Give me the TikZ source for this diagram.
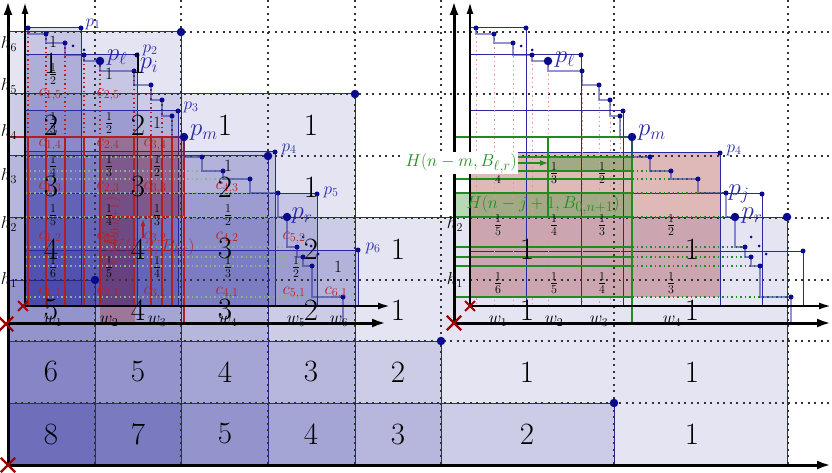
\documentclass[tikz,border=0pt]{standalone}
\usepackage{amsmath}
\usepackage{tikz}
\usetikzlibrary{arrows.meta,shapes.misc}
\definecolor{areaFill}{HTML}{1E1E96}
\definecolor{areaDraw}{HTML}{2828A0}
\definecolor{ptFill}{HTML}{0A0A8C}
\definecolor{ptText}{HTML}{2A2AA8}
\definecolor{redDraw}{HTML}{B41E1E}
\definecolor{redText}{HTML}{B82020}
\definecolor{pinkFill}{HTML}{8C0000}
\definecolor{grnDraw}{HTML}{1E8C1E}
\definecolor{grnFill}{HTML}{288C1E}
\definecolor{grnDot}{HTML}{8CB48C}
\definecolor{crossRed}{HTML}{A00000}
\tikzset{
  area/.style   ={fill=areaFill, fill opacity=0.12, draw=areaDraw, line width=1pt},
  areaL/.style  ={area, fill opacity=0.15},
  outl/.style   ={draw=areaDraw, line width=1pt},
  gridl/.style  ={dash pattern=on 2pt off 4.5pt, line width=1.3pt, black!80},
  axthick/.style={-{Latex[length=14pt,width=9pt]}, line width=3pt},
  axthin/.style ={-{Latex[length=12pt,width=7pt]}, line width=2pt},
  xmark/.style  ={cross out, draw=crossRed, line width=2.4pt, minimum size=12pt, inner sep=0pt},
  xsmall/.style ={xmark, line width=1.8pt, minimum size=8pt},
  stair/.style  ={draw=areaDraw, draw opacity=0.5, line width=1.8pt},
  dot/.style    ={circle, fill=ptFill, inner sep=0pt, minimum size=5pt},
  bigdot/.style ={dot, minimum size=8.5pt},
  tinydot/.style={dot, minimum size=3pt},
  redl/.style   ={draw=redDraw, line width=1.2pt},
  reddot/.style ={draw=redDraw, dash pattern=on 1.5pt off 3pt, line width=1.2pt},
  pinkdot/.style={draw=redDraw!45, dash pattern=on 1.5pt off 3pt, line width=1pt},
  grnl/.style   ={draw=grnDraw, line width=1.2pt},
  grndot/.style ={draw=grnDraw, dash pattern=on 1.5pt off 3pt, line width=1.2pt},
  greydot/.style={draw=grnDot, dash pattern=on 1.5pt off 3pt, line width=1.2pt},
  num/.style    ={font=\fontsize{31}{33}\selectfont, inner sep=0pt},
  frc/.style    ={font=\fontsize{17}{19}\selectfont, inner sep=0pt},
  clab/.style   ={font=\fontsize{18}{20}\selectfont, text=redText, inner sep=0pt},
  axlab/.style  ={font=\fontsize{18}{20}\selectfont, inner sep=0pt},
  plab/.style   ={font=\fontsize{18}{20}\selectfont, text=ptText, inner sep=0pt},
  pbig/.style   ={font=\fontsize{25}{27}\selectfont, text=ptText, inner sep=0pt},
  hlab/.style   ={font=\fontsize{19}{21}\selectfont, text=grnDraw, inner sep=1pt},
  vlab/.style   ={font=\fontsize{18}{20}\selectfont, text=redText, inner sep=0pt},
  garr/.style   ={-{Latex[length=8pt,width=6pt]}, grnDraw, line width=1.2pt},
  rarr/.style   ={-{Latex[length=7pt,width=5pt]}, redDraw, line width=1.2pt},
}

\begin{document}
\begin{tikzpicture}[x=1pt, y=-1pt]
  \useasboundingbox (0,0) rectangle (832,473);

  % origins, corners of the rectangles and the staircase points
  \coordinate (oA)  at (8,465);
  \coordinate (oL2) at (8,323);
  \coordinate (oL)  at (25,306);
  \coordinate (oR2) at (454,323);
  \coordinate (oR)  at (470,306);
  \coordinate (gL)  at (454,0);
  \coordinate (gB)  at (0,217);
  \foreach \x/\y [count=\k] in {181/32,355/94,268/156,787/217,95/280,441/341,614/403,181/403}
    \coordinate (a\k) at (\x,\y);
  \foreach \x/\y [count=\k] in {81/28,137/55,178/111,275/152,317/194,358/250}
    \coordinate (q\k) at (\x,\y);
  \foreach \x/\y [count=\k] in {526/28,581/55,623/111,720/153,762/194,803/251}
    \coordinate (r\k) at (\x,\y);
  \foreach \x/\y [count=\k] in {28/28,46/34,65/43,84/55,100/61,134/71,151/85,162/100,172/116,184/137,202/157,223/171,250/179,278/193,287/217,297/247,303/257,312/266,343/297} {
    \coordinate (s\k) at (\x,\y);
    \coordinate (t\k) at (\x+448,\y);
  }

  % shaded rectangles
  \foreach \k in {1,...,8} \draw[area] (oA) rectangle (a\k);
  \foreach \k in {1,...,6} \draw[areaL] (oL) rectangle (q\k);
  \fill[pinkFill, fill opacity=0.28] (100,137) -- (184,137) -- (184,217) -- (135,217) -- (135,325) -- (100,325) -- cycle;
  \fill[pinkFill, fill opacity=0.28] (470,297) rectangle (r4);
  \fill[grnFill, fill opacity=0.33] (548,157) rectangle (632,171);
  \fill[grnFill, fill opacity=0.33] (454,193) rectangle (632,217);

  % dotted grid
  \foreach \x in {95,181,268,355,441,614,788} \draw[gridl] (\x,0) -- (\x,465);
  \foreach \y in {32,94,156,218,280,341,403} \draw[gridl] (8,\y) -- (832,\y);

  \foreach \k in {1,...,6} \draw[outl] (oR) rectangle (r\k);

  % red and green guides
  \draw[redl] (oL2) rectangle (s10);
  \draw[redl] (100,217) -- (184,217);
  \foreach \k in {1,...,9} {
    \draw[reddot] (s\k) -- (s\k |- s10);
    \draw[redl] (s\k |- s10) -- (s\k |- oL);
  }
  \foreach \k in {1,...,10} \draw[pinkdot] (t\k) -- (t\k |- oR);
  \draw[grnl] (oR2) rectangle (t10);
  \draw[grnl] (t5 |- t10) -- (t5 |- gB);
  \foreach \k in {11,...,19} {
    \draw[greydot] (oL |- s\k) -- (s\k);
    \draw[grnl] (gL |- t\k) -- (t10 |- t\k);
    \draw[grndot] (t10 |- t\k) -- (t\k);
  }

  % staircases
  \draw[stair] (s1) foreach \k in {2,...,19} {|- (s\k)};
  \draw[stair] (t1) foreach \k in {2,...,19} {|- (t\k)};
  \draw[stair] (s19) -- (s19 |- oL2);
  \draw[stair] (t19) -- (t19 |- oR2);

  % axes
  \coordinate (yA) at (8,1);
  \coordinate (xA) at (831,465);
  \coordinate (xL2) at (386,323);
  \coordinate (yL) at (25,2);
  \coordinate (xL) at (390,306);
  \coordinate (yR2) at (454,1);
  \coordinate (xR2) at (831,323);
  \coordinate (yR) at (470,2);
  \coordinate (xR) at (831,306);
  \draw[axthick] (oA) -- (yA);
  \draw[axthick] (oA) -- (xA);
  \draw[axthick] (oL2) -- (xL2);
  \draw[axthin] (oL) -- (yL);
  \draw[axthin] (oL) -- (xL);
  \draw[axthick] (oR2) -- (yR2);
  \draw[axthick] (oR2) -- (xR2);
  \draw[axthin] (oR) -- (yR);
  \draw[axthin] (oR) -- (xR);
  \node[xmark] (xa) at (8,465) {};
  \node[xmark] (xl2) at (6,324) {};
  \node[xsmall] (xl) at (23,306) {};
  \node[xmark] (xr2) at (454,323) {};
  \node[xsmall] (xr) at (470,306) {};

  % points
  \foreach \k in {1,...,7} \node[bigdot] (da\k) at (a\k) {};
  \foreach \k in {1,...,6} {
    \node[dot] (dq\k) at (q\k) {};
    \node[dot] (dr\k) at (r\k) {};
  }
  \foreach \k in {1,...,19} {
    \node[dot] (ds\k) at (s\k) {};
    \node[dot] (dt\k) at (t\k) {};
  }
  \foreach \k in {5,10,15} {
    \node[bigdot] (bs\k) at (s\k) {};
    \node[bigdot] (bt\k) at (t\k) {};
  }
  \foreach \x/\y [count=\k] in {73/46,84/50,303/237,311/246,318/254} {
    \node[tinydot] (ms\k) at (\x,\y) {};
    \node[tinydot] (mt\k) at (\x+448,\y) {};
  }

  % point labels
  \node[plab] (lp1) at (93,24) {$p_1$};
  \node[plab] (lp2) at (150,50) {$p_2$};
  \node[plab] (lp3) at (191,107) {$p_3$};
  \node[plab] (lp4) at (289,149) {$p_4$};
  \node[plab] (lp5) at (331,192) {$p_5$};
  \node[plab] (lp6) at (373,248) {$p_6$};
  \node[pbig] (lpl) at (117,58) {$p_\ell$};
  \node[pbig] (lpi) at (149,66) {$p_i$};
  \node[pbig] (lpm) at (204,133) {$p_m$};
  \node[pbig] (lpr) at (302,216) {$p_r$};
  \node[pbig] (rpl) at (565,60) {$p_\ell$};
  \node[pbig] (rpm) at (652,133) {$p_m$};
  \node[plab] (rp4) at (734,150) {$p_4$};
  \node[pbig] (rpj) at (739,194) {$p_j$};
  \node[pbig] (rpr) at (752,216) {$p_r$};

  % cell values of the left grid
  \foreach \i/\cx in {1/53,2/109,3/157,4/228,5/296,6/338}
    \foreach \j/\cy in {1/267,2/215,3/166,4/123,5/74,6/42} {
      \pgfmathtruncatemacro\cnt{8-\i-\j}
      \ifnum\cnt>1 \node[frc] (fL\i\j) at (\cx,\cy) {$\frac{1}{\cnt}$};\fi
      \ifnum\cnt=1 \ifnum\i\j=52 \else \node[frc] (fL\i\j) at (\cx,\cy) {$1$};\fi\fi
    }
  \foreach \i/\cx in {1/50,2/108,3/155,4/227,5/294,6/336}
    \foreach \j/\cy in {1/293,2/238,3/188,4/145,5/95} {
      \pgfmathtruncatemacro\cnt{8-\i-\j}
      \ifnum\cnt>0 \node[clab] (cL\i\j) at (\cx,\cy) {$c_{\i,\j}$};\fi
    }
  \foreach \i/\cx in {1/498,2/554,3/602,4/671}
    \foreach \j/\cy in {1/283,2/225,3/173} {
      \pgfmathtruncatemacro\cnt{8-\i-\j}
      \ifnum\cnt>1 \node[frc] (fR\i\j) at (\cx,\cy) {$\frac{1}{\cnt}$};\fi
    }

  % axis labels
  \foreach \j/\cy in {1/280,2/224,3/176,4/132,5/86,6/44}
    \node[axlab] (hL\j) at (9,\cy) {$h_\j$};
  \foreach \i/\cx in {1/53,2/109,3/157,4/228,5/296,6/339}
    \node[axlab] (wL\i) at (\cx,321) {$w_\i$};
  \foreach \j/\cy in {1/280,2/224}
    \node[axlab] (hR\j) at (455,\cy) {$h_\j$};
  \foreach \i/\cx in {1/498,2/554,3/599,4/672}
    \node[axlab] (wR\i) at (\cx,321) {$w_\i$};

  % red and green annotations
  \node[vlab, rotate=90] (vb) at (112,232) {$V(B_{0,n+1})$};
  \node[vlab] (vl) at (153,247) {$V(\ell,2,B_{\ell,r})$};
  \coordinate (va0) at (143,238);
  \coordinate (va1) at (143,219);
  \draw[rarr] (va0) -- (va1);
  \node[hlab, fill=white, anchor=east] (hm) at (518,163) {$H(n-m,B_{\ell,r})$};
  \coordinate (g1w) at (548,163);
  \draw[garr] (hm.east) -- (g1w);
  \node[hlab] (hj) at (543,205) {$H(n-j+1,B_{0,n+1})$};

  % counts of the big grid
  \foreach \yy/\vals in {63/{1,1},125/{2,2,1,1},187/{3,3,2,1},249/{4,4,3,2,1,1,1},310/{5,4,3,2,1,1,1},372/{6,5,4,3,2,1,1},434/{8,7,5,4,3,2,1}}
    \foreach \v [count=\c] in \vals {
      \pgfmathsetmacro\xx{{51,138,225,311,398,527,692}[\c-1]}
      \node[num] (n\yy-\c) at (\xx,\yy) {\v};
    }
\end{tikzpicture}
\end{document}
